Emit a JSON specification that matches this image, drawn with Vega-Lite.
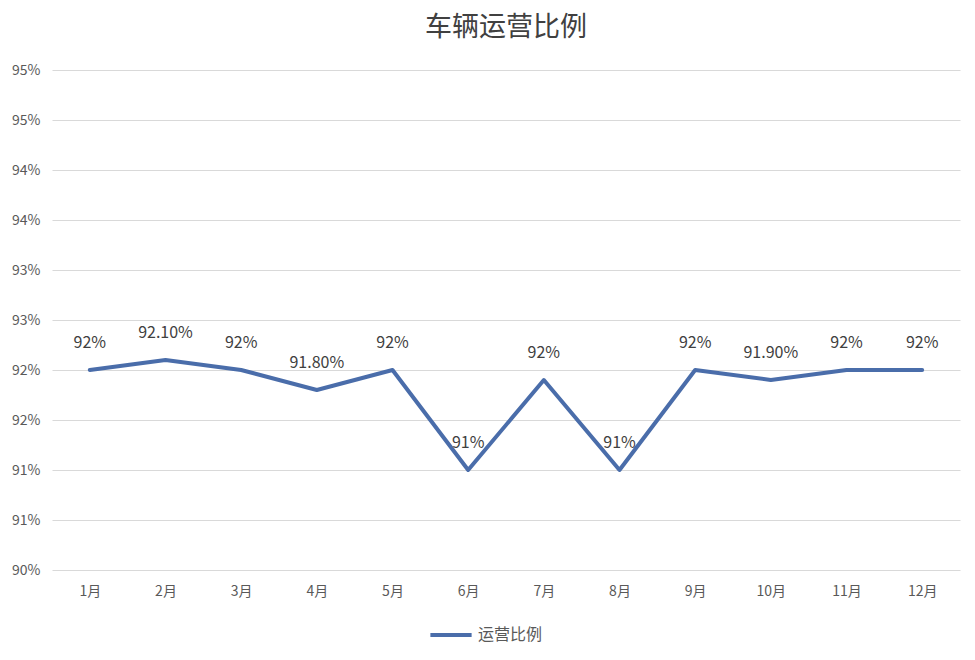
{
  "$schema": "https://vega.github.io/schema/vega-lite/v6.json",
  "autosize": "none",
  "width": 908,
  "height": 500,
  "padding": {"left": 52, "top": 70, "right": 15, "bottom": 90},
  "background": "white",
  "title": {
    "text": "车辆运营比例",
    "anchor": "middle",
    "frame": "group",
    "font": "Noto Sans CJK SC",
    "fontSize": 27,
    "fontWeight": "normal",
    "color": "#404040",
    "offset": 21
  },
  "config": {
    "view": {"stroke": null},
    "font": "Noto Sans CJK SC"
  },
  "data": {
    "values": [
      {"month": "1月", "rate": 92.0, "label": "92%", "series": "运营比例"},
      {"month": "2月", "rate": 92.1, "label": "92.10%", "series": "运营比例"},
      {"month": "3月", "rate": 92.0, "label": "92%", "series": "运营比例"},
      {"month": "4月", "rate": 91.8, "label": "91.80%", "series": "运营比例"},
      {"month": "5月", "rate": 92.0, "label": "92%", "series": "运营比例"},
      {"month": "6月", "rate": 91.0, "label": "91%", "series": "运营比例"},
      {"month": "7月", "rate": 91.9, "label": "92%", "series": "运营比例"},
      {"month": "8月", "rate": 91.0, "label": "91%", "series": "运营比例"},
      {"month": "9月", "rate": 92.0, "label": "92%", "series": "运营比例"},
      {"month": "10月", "rate": 91.9, "label": "91.90%", "series": "运营比例"},
      {"month": "11月", "rate": 92.0, "label": "92%", "series": "运营比例"},
      {"month": "12月", "rate": 92.0, "label": "92%", "series": "运营比例"}
    ]
  },
  "encoding": {
    "x": {
      "field": "month",
      "type": "ordinal",
      "sort": null,
      "scale": {"type": "point", "padding": 0.5},
      "axis": {
        "title": null,
        "labelAngle": 0,
        "domain": false,
        "ticks": false,
        "grid": false,
        "labelFontSize": 14,
        "labelColor": "#595959",
        "labelPadding": 14
      }
    },
    "y": {
      "field": "rate",
      "type": "quantitative",
      "scale": {"domain": [90, 95], "nice": false, "zero": false},
      "axis": {
        "title": null,
        "values": [90, 90.5, 91, 91.5, 92, 92.5, 93, 93.5, 94, 94.5, 95],
        "labelExpr": "round(datum.value) + '%'",
        "domain": false,
        "ticks": false,
        "gridColor": "#D9D9D9",
        "gridWidth": 1,
        "labelFontSize": 14,
        "labelColor": "#595959",
        "labelPadding": 12
      }
    }
  },
  "layer": [
    {
      "mark": {"type": "line", "strokeWidth": 4, "strokeCap": "round", "strokeJoin": "round"},
      "encoding": {
        "color": {
          "field": "series",
          "type": "nominal",
          "scale": {"range": ["#4A6DAA"]},
          "legend": {
            "title": null,
            "orient": "none",
            "legendX": 376,
            "legendY": 542,
            "direction": "horizontal",
            "symbolType": "stroke",
            "symbolSize": 1700,
            "symbolStrokeWidth": 4,
            "labelFontSize": 16,
            "labelColor": "#595959"
          }
        }
      }
    },
    {
      "mark": {"type": "text", "dy": -27, "fontSize": 16, "color": "#404040"},
      "encoding": {"text": {"field": "label"}}
    }
  ]
}
